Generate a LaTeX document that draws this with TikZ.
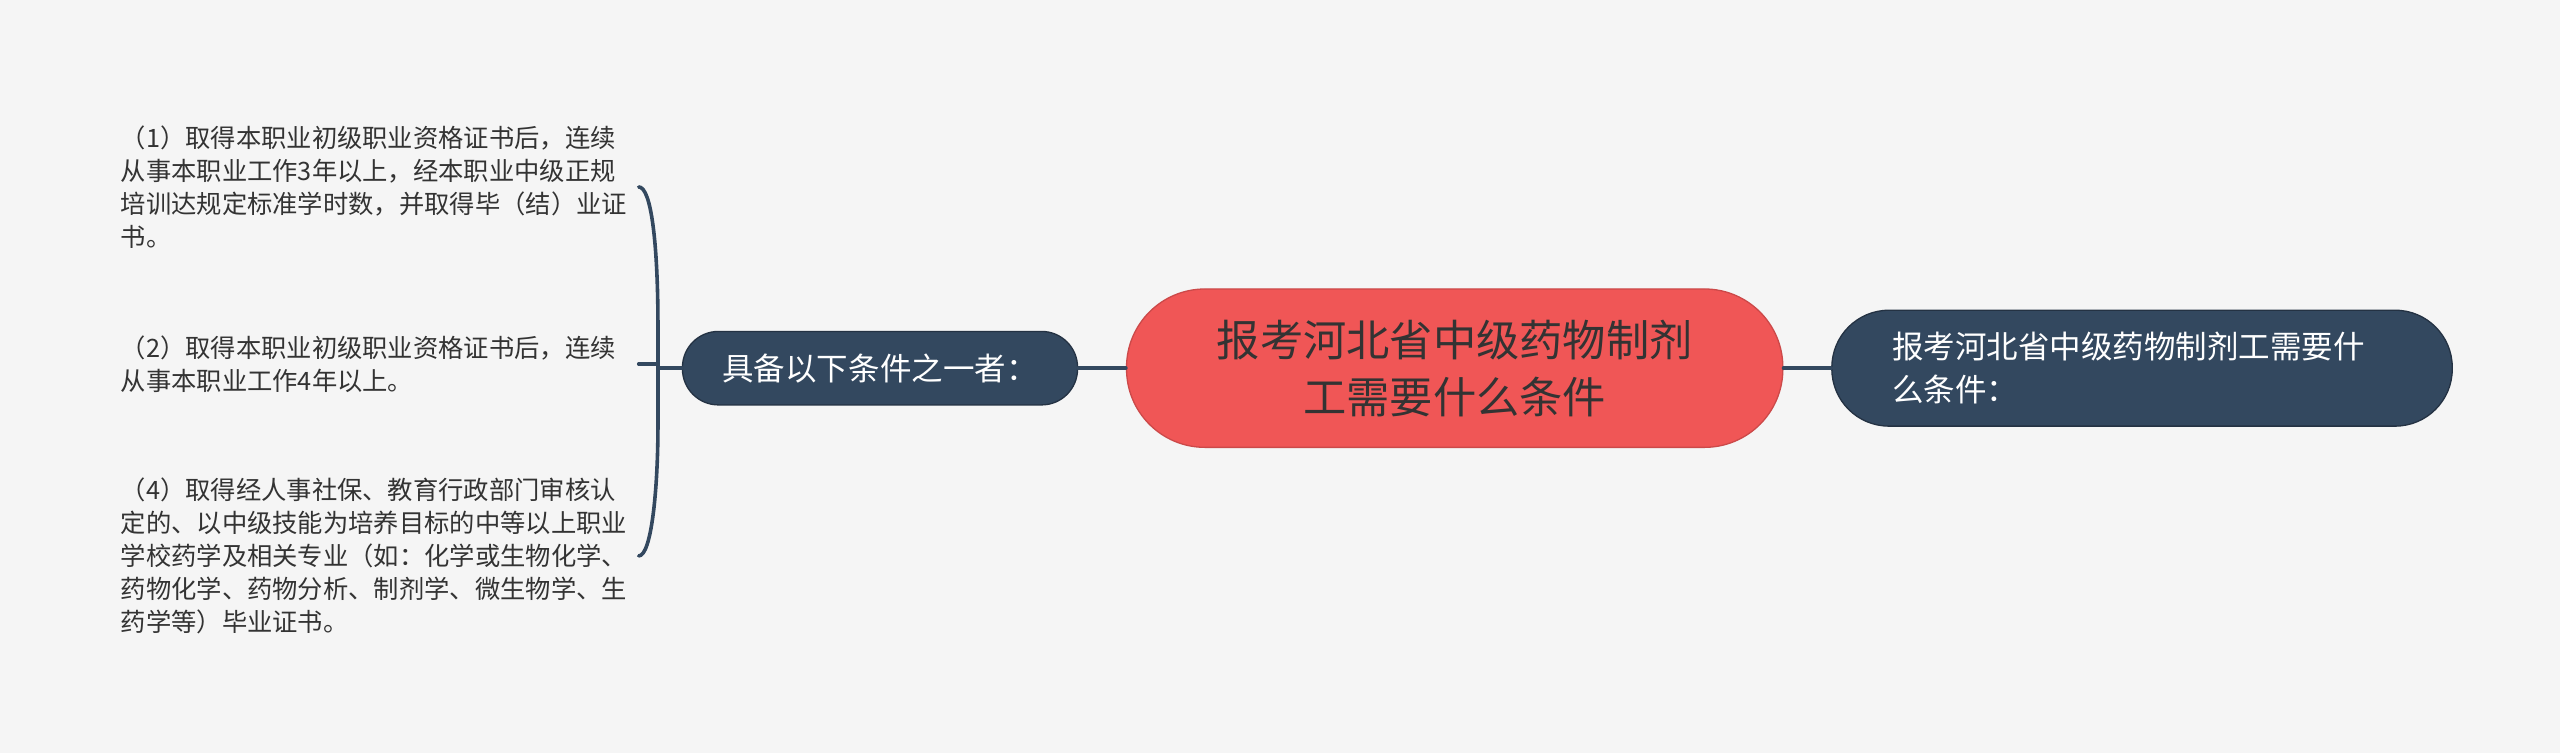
\documentclass[tikz,border=0pt]{standalone}
\usepackage{fontspec}
\newfontfamily\cjk{Noto Sans CJK SC}
\definecolor{bg}{HTML}{F5F5F5}
\definecolor{navy}{HTML}{33485F}
\definecolor{rootred}{HTML}{F05656}
\definecolor{txt}{HTML}{333333}

\begin{document}
\begin{tikzpicture}
  [x=1pt,y=1pt,every node/.style={inner sep=0pt,font=\cjk}]

  \tikzset{
  root/.style = {rectangle,rounded corners=48pt,fill=rootred,draw=rootred!85!black,line width=0.8pt,text=txt,
    minimum width=402pt,minimum height=97pt,align=center,font=\cjk\fontsize{26.5}{35}\selectfont},
  sub/.style = {rectangle,rounded corners=22pt,fill=navy,draw=navy!70!black,line width=0.8pt,text=white,
    minimum width=242pt,minimum height=45pt,font=\cjk\fontsize{19.3}{26}\selectfont},
  item/.style = {text=txt,text width=312pt,align=left,inner xsep=5pt,font=\cjk\fontsize{15.5}{20.3}\selectfont},
  link/.style = {draw=navy,line width=2.2pt,line cap=round}
  }

  \fill[bg] (0,0) rectangle (1568,-461);
  \useasboundingbox (0,0) rectangle (1568,-461);

  \node[root] (n0) at (891,-225.5) {报考河北省中级药物制剂\\工需要什么条件};
  \node[sub] (n1) at (539,-225.5) {具备以下条件之一者：};
  \node[sub,minimum width=380pt,minimum height=71pt,rounded corners=35pt,
    text width=306pt,inner xsep=37pt,align=left] (n2) at (1312,-225.5) {报考河北省中级药物制剂工需要什\\么条件：};

  \node[item] (n3) at (230,-114.5) {（1）取得本职业初级职业资格证书后，连续\\从事本职业工作3年以上，经本职业中级正规\\培训达规定标准学时数，并取得毕（结）业证\\书。};
  \node[item] (n4) at (230,-223) {（2）取得本职业初级职业资格证书后，连续\\从事本职业工作4年以上。};
  \node[item] (n5) at (230,-340.5) {（4）取得经人事社保、教育行政部门审核认\\定的、以中级技能为培养目标的中等以上职业\\学校药学及相关专业（如：化学或生物化学、\\药物化学、药物分析、制剂学、微生物学、生\\药学等）毕业证书。};

  \coordinate (brc) at (403,-225.5);

  \foreach \from/\to in {n0/n1,n0/n2}
    \draw[link] (\from) -- (\to);

  \draw[link] (n1.west) -- (brc);
  \draw[link] (n4.east) -- (n4.east -| brc);
  \draw[link] (n3.east) .. controls (399,-114.5) and (403,-150) .. (403,-200)
    -- (403,-260) .. controls (403,-300) and (399,-340.5) .. (n5.east);

\end{tikzpicture}
\end{document}
